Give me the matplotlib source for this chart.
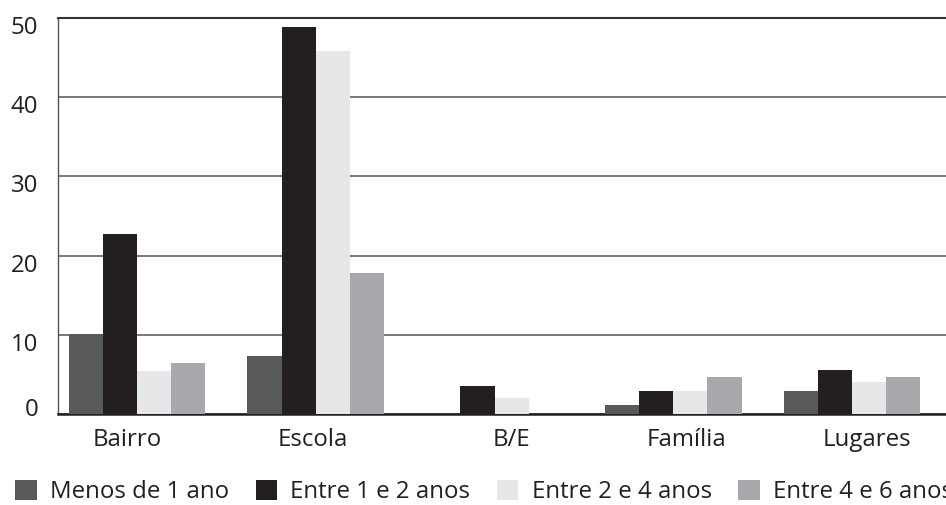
import numpy as np
import matplotlib
matplotlib.use("Agg")
from matplotlib import pyplot as plt
from matplotlib.transforms import ScaledTranslation

plt.rcParams['font.family'] = ['Open Sans', 'DejaVu Sans']

categories = ["Bairro", "Escola", "B/E", "Família", "Lugares"]
series_names = ["Menos de 1 ano", "Entre 1 e 2 anos", "Entre 2 e 4 anos", "Entre 4 e 6 anos"]
menos_1 = [10.1, 7.3, 0.0, 1.1, 2.9]
entre_1_2 = [22.7, 48.9, 3.6, 2.9, 5.6]
entre_2_4 = [5.4, 45.8, 2.0, 2.9, 4.0]
entre_4_6 = [6.4, 17.8, 0.0, 4.65, 4.65]
colors = ["#58595b", "#231f20", "#e6e7e8", "#a7a9ac"]
# the category labels in the original sit a little off the bar group centres
label_shift = [-0.056, -0.017, 0.095, 0.073, 0.084]

fig = plt.figure(figsize=(9.46, 5.05), dpi=100)
ax = fig.add_axes([0.0608, 0.180, 0.9392, 0.7844])

x = np.arange(len(categories))
w = 0.191
for i, vals in enumerate([menos_1, entre_1_2, entre_2_4, entre_4_6]):
    ax.bar(x + (i - 1.5) * w, vals, width=w, color=colors[i],
           label=series_names[i], zorder=3)

ax.set_xlim(-0.444, 4.525)
ax.set_ylim(0, 50)
ax.set_yticks([0, 10, 20, 30, 40, 50])
ax.yaxis.grid(True, color="#7a7a7a", linewidth=1.4, zorder=0)
ax.set_axisbelow(True)

ax.set_xticks(x + np.array(label_shift))
ax.set_xticklabels(categories, fontsize=17.3, color="#231f20")
ax.tick_params(axis='y', labelsize=17.3, labelcolor="#231f20", length=0, pad=14)
ax.tick_params(axis='x', length=0, pad=10)

# y labels in the original sit slightly below their gridlines (0 slightly above)
for lbl, v in zip(ax.get_yticklabels(), [0, 10, 20, 30, 40, 50]):
    dy = 5 / 72 if v == 0 else -5 / 72
    lbl.set_transform(lbl.get_transform() + ScaledTranslation(0, dy, fig.dpi_scale_trans))

ax.spines['right'].set_visible(False)
ax.spines['top'].set_color("#333333")
ax.spines['top'].set_linewidth(1.5)
ax.spines['left'].set_color("#555555")
ax.spines['left'].set_linewidth(1.0)
ax.spines['bottom'].set_color("#231f20")
ax.spines['bottom'].set_linewidth(1.8)

handles, labels = ax.get_legend_handles_labels()
fig.legend(handles, labels, loc='center left', bbox_to_anchor=(0.016, 0.026),
           ncol=4, frameon=False, fontsize=17.3, handlelength=0.9, handleheight=0.9,
           handletextpad=0.55, columnspacing=1.1, borderaxespad=0, borderpad=0,
           labelcolor="#231f20")

fig.savefig("out.png", dpi=100)
